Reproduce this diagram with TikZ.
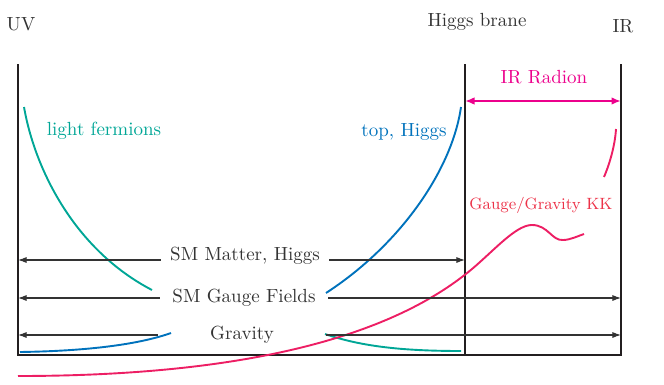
\documentclass[tikz,border=0pt]{standalone}
\usepackage{xcolor}
\usepackage{tikz}
\usetikzlibrary{arrows.meta, positioning}
\definecolor{braneGray}{RGB}{35,31,32}
\definecolor{fermTeal}{RGB}{0,166,150}
\definecolor{topBlue}{RGB}{0,114,188}
\definecolor{radMagenta}{RGB}{236,0,140}
\definecolor{kkRed}{RGB}{237,30,100}
\definecolor{kkText}{RGB}{236,50,72}
\tikzset{
  brane/.style={draw=braneGray, line width=1.3pt},
  field/.style={line width=1pt},
  prop/.style={draw=black!80, line width=0.55pt, -{Latex[length=4.5pt,width=3.2pt]}},
  lbl/.style={text=black!80},
  band/.style={lbl, minimum width=88pt, inner sep=0pt}
}
\begin{document}
\begin{tikzpicture}[x=0.526pt, y=-0.526pt]
				\useasboundingbox (0,0) rectangle (664,384);
				% Branes:
				\coordinate (uvtop) at (18,64);
				\coordinate (uvbot) at (18,355);
				\coordinate (hbtop) at (465,64);
				\coordinate (hbbot) at (465,355);
				\coordinate (irtop) at (621,64);
				\coordinate (irbot) at (621,355);
				\draw[brane] (uvtop) -- (uvbot) -- (irbot) -- (irtop);
				\draw[brane] (hbtop) -- (hbbot);
				\node[lbl] (uv) at (21,24) {UV};
				\node[lbl] (hb) at (477,22) {Higgs brane};
				\node[lbl] (ir) at (623,26) {IR};
				% Radion:
				\node[text=radMagenta] (radion) at (544,77) {IR Radion};
				\coordinate (radL) at (465,101);
				\coordinate (radR) at (621,101);
				\draw[radMagenta, line width=1pt, {Latex[length=5pt,width=4pt]}-{Latex[length=5pt,width=4pt]}] (radL) -- (radR);
				% Profiles:
				\node[text=fermTeal] (light) at (104,131) {light fermions};
				\node[text=topBlue] (top) at (404,132) {top, Higgs};
				\node[text=kkText, font=\fontsize{8.6}{10}\selectfont] (kk) at (541,205) {Gauge/Gravity KK};
				\draw[field, fermTeal] (24,107) .. controls (35,170) and (75,250) .. (152,290);
				\draw[field, fermTeal] (325,334) .. controls (360,346) and (400,351) .. (461,351);
				\draw[field, topBlue] (461,107) .. controls (452,170) and (400,245) .. (326,293);
				\draw[field, topBlue] (20,352) .. controls (90,351) and (140,344) .. (171,333);
				\draw[field, kkRed] (18,376) .. controls (250,376) and (400,335) .. (480,262)
					.. controls (500,244) and (518,225) .. (532,225)
					.. controls (548,225) and (552,241) .. (563,240)
					.. controls (570,240) and (578,236) .. (584,234);
				\draw[field, kkRed] (604,177) .. controls (610,163) and (615,145) .. (616,129);
				% Localisation arrows:
				\node[band, anchor=base] (matter) at (245,260) {SM Matter, Higgs};
				\draw[prop] (matter.base west) -- (matter.base west -| uvbot);
				\draw[prop] (matter.base east) -- (matter.base east -| hbbot);
				\node[band] (gauge) at (244,298) {SM Gauge Fields};
				\draw[prop] (gauge.west) -- (gauge.west -| uvbot);
				\draw[prop] (gauge.east) -- (gauge.east -| irbot);
				\node[band] (grav) at (242,335) {Gravity};
				\draw[prop] (grav.west) -- (grav.west -| uvbot);
				\draw[prop] (grav.east) -- (grav.east -| irbot);
			\end{tikzpicture}
\end{document}
